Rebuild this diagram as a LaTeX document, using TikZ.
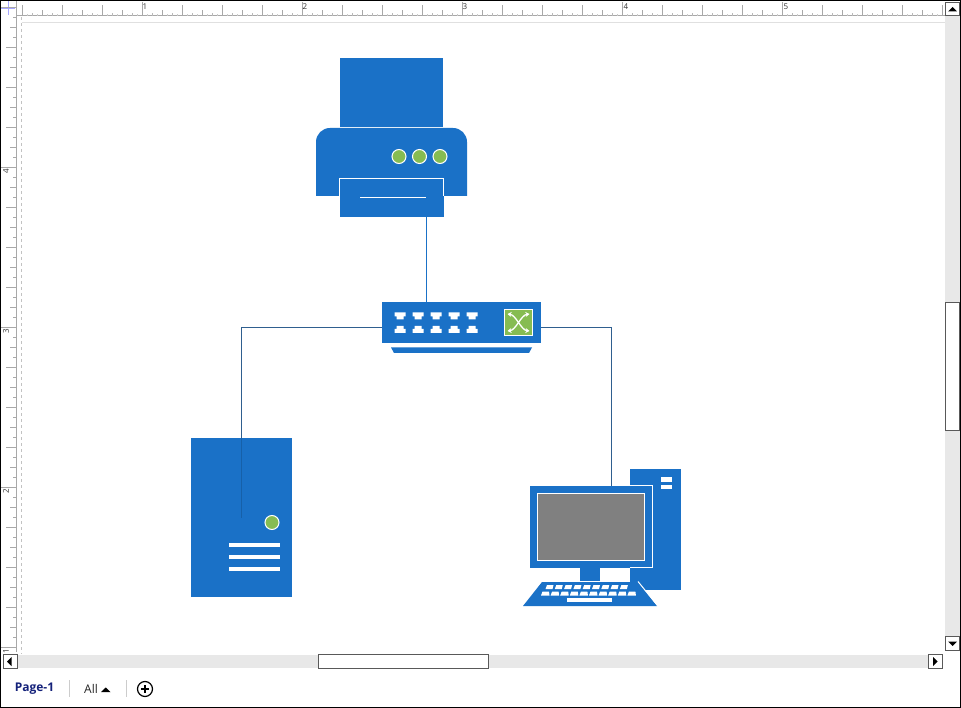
\documentclass[tikz,border=0pt]{standalone}
\usepackage{xcolor}
\usepackage{fontspec}
\setmainfont{Open Sans}
\usetikzlibrary{arrows.meta,positioning,calc}
\definecolor{netblue}{HTML}{1A71C7}
\definecolor{leaf}{HTML}{86BC52}
\definecolor{wire}{HTML}{2F5F8F}
\definecolor{track}{HTML}{E8E8E8}
\definecolor{tick}{HTML}{A8A8A8}
\definecolor{tabnavy}{HTML}{14217A}
\tikzset{
  panel/.style={rectangle, fill=netblue, inner sep=0pt, outer sep=0pt},
  lamp/.style={circle, fill=leaf, draw=white, line width=1pt, inner sep=0pt, minimum size=14pt},
  slot/.style={rectangle, fill=white, inner sep=0pt, outer sep=0pt},
  key/.style={fill=white, draw=none},
  wirelink/.style={draw=wire, line width=1pt},
  bluelink/.style={draw=netblue, line width=1pt},
  rulerdigit/.style={font=\fontsize{8}{8}\selectfont, text=black!80, inner sep=0pt},
  barbtn/.style={rectangle, draw=black!65, fill=white, line width=1pt, inner sep=0pt, outer sep=0pt, minimum width=14pt, minimum height=13.5pt},
  barthumb/.style={barbtn, fill=white},
  tablbl/.style={font=\fontsize{12}{13}\selectfont, inner sep=0pt},
  swing/.style={{Stealth[length=4pt,width=5pt]}-{Stealth[length=4pt,width=5pt]}, draw=white, line width=1.3pt}
}
\begin{document}
\begin{tikzpicture}[x=1pt,y=-1pt]
 \useasboundingbox (0,0) rectangle (961,708);
 \fill[white] (0,0) rectangle (961,708);

 % rulers
 \draw[black!12, line width=0.5pt] (22,22) -- (945,22);
 \draw[tick!70, line width=1pt, dashed] (21.5,17) -- (21.5,654);
 \draw[tick, line width=1pt] (16,16) -- (945,16) (16,0) -- (16,652);
 \draw[blue!35, line width=0.7pt] (1,8) -- (15,8) (8,1) -- (8,15);
 \foreach \x in {27,37,...,942} \draw[tick!60, line width=0.8pt] (\x,16) -- (\x,14);
 \foreach \x in {32,52,...,942} \draw[tick!80, line width=0.8pt] (\x,16) -- (\x,13);
 \foreach \x in {42,82,...,942} \draw[tick, line width=0.8pt] (\x,16) -- (\x,10);
 \foreach \x in {22,62,...,942} \draw[tick, line width=0.8pt] (\x,16) -- (\x,5);
 \foreach \x in {142,302,462,622,782} \draw[tick, line width=0.8pt] (\x,16) -- (\x,2);
 \foreach \y in {17,27,...,650} \draw[tick, line width=0.8pt] (16,\y) -- (13,\y);
 \foreach \y in {27,67,...,650} \draw[tick, line width=0.8pt] (16,\y) -- (10,\y);
 \foreach \y in {47,87,...,650} \draw[tick, line width=0.8pt] (16,\y) -- (6,\y);
 \foreach \y in {7,167,327,487,647} \draw[tick, line width=0.8pt] (16,\y) -- (1,\y);
 \foreach \n/\x in {1/145,2/305,3/465,4/626,5/786}
   \node[rulerdigit] (top\n) at (\x,7) {\n};
 \foreach \n/\y in {1/651,2/491,3/331,4/171}
   \node[rulerdigit, rotate=90] (side\n) at (6,\y) {\n};

 % scroll bars
 \fill[track] (945,16) rectangle (960,637);
 \fill[track] (18,654.5) rectangle (928,668);
 \node[barthumb, minimum width=14pt, minimum height=127pt] (vthumb) at (952.5,366.5) {};
 \node[barthumb, minimum width=170pt, minimum height=14pt] (hthumb) at (403.5,661.5) {};
 \node[barbtn] (btnup) at (952.5,9) {};
 \node[barbtn] (btndown) at (952.5,643.5) {};
 \node[barbtn] (btnleft) at (10,661.5) {};
 \node[barbtn] (btnright) at (935,661.5) {};
 \fill[black] (948,11.5) -- (957,11.5) -- (952.5,7) -- cycle;
 \fill[black] (948,641.5) -- (957,641.5) -- (952.5,646) -- cycle;
 \fill[black] (11.5,657) -- (11.5,666) -- (7,661.5) -- cycle;
 \fill[black] (933,657) -- (933,666) -- (937.5,661.5) -- cycle;

 % sheet tabs
 \node[tablbl, text=tabnavy, font=\fontsize{12}{13}\selectfont\bfseries] (pagetab) at (34.5,688.5) {Page-1};
 \node[tablbl, text=black!85] (alltab) at (91,688.5) {All};
 \fill[black] (101,692) -- (110.5,692) -- (105.75,687.5) -- cycle;
 \draw[black!20, line width=1pt] (69.5,680) -- (69.5,697) (126.5,680) -- (126.5,697);
 \node[circle, draw=black, line width=1.2pt, minimum size=15pt, inner sep=0pt] (addtab) at (145,689) {};
 \draw[black, line width=1.5pt] (141,689) -- (149,689) (145,685) -- (145,693);

 % printer
 \node[panel, minimum width=103pt, minimum height=69pt] (paper) at (391.5,92.5) {};
 \fill[netblue] (316,196) [rounded corners=14pt] -- (316,128) -- (467,128) [sharp corners] -- (467,196) -- cycle;
 \node[lamp] (lampa) at (399,156.5) {};
 \node[lamp] (lampb) at (419.5,156.5) {};
 \node[lamp] (lampc) at (440,156.5) {};
 \node[panel, minimum width=104pt, minimum height=38.5pt] (tray) at (391.5,197.75) {};
 \draw[white, line width=1pt] (339.5,196) -- (tray.north west) -- (tray.north east) -- (443.5,196);
 \draw[white, line width=1pt] (360,197.5) -- (426,197.5);

 % switch
 \node[panel, minimum width=159pt, minimum height=41pt] (switch) at (461.5,322.5) {};
 \fill[netblue] (391,347.5) -- (532,347.5) -- (529,353) -- (394,353) -- cycle;
 \foreach \x in {400,418,436,454,472} {
   \fill[white] (\x-5.5,312.5) -- (\x+5.5,312.5) -- (\x+5.5,316.5) -- (\x+3.5,316.5) -- (\x+3.5,319.5) -- (\x-3.5,319.5) -- (\x-3.5,316.5) -- (\x-5.5,316.5) -- cycle;
   \fill[white] (\x-5.5,329) -- (\x-3.5,329) -- (\x-3.5,326) -- (\x+3.5,326) -- (\x+3.5,329) -- (\x+5.5,329) -- (\x+5.5,333) -- (\x-5.5,333) -- cycle;
 }
 \node[rectangle, fill=leaf, draw=white, line width=1pt, minimum width=28pt, minimum height=26pt, inner sep=0pt] (fabric) at (518.5,322.5) {};
 \draw[swing] (507.5,314) .. controls (516,315) and (521,330) .. (529.5,331);
 \draw[swing] (507.5,331) .. controls (516,330) and (521,315) .. (529.5,314);

 % server
 \node[panel, minimum width=101pt, minimum height=159pt] (server) at (241.5,517.5) {};
 \node[lamp] (serverlamp) at (272,522.5) {};
 \foreach \y in {545,557,569}
   \node[slot, minimum width=51pt, minimum height=3.5pt] at (254.5,\y) {};

 % desktop computer
 \node[panel, minimum width=51pt, minimum height=121pt] (tower) at (655.5,529.5) {};
 \node[slot, minimum width=11pt, minimum height=4.5pt] (bayone) at (666,479.5) {};
 \node[slot, minimum width=11pt, minimum height=4pt] (baytwo) at (666,487) {};
 \node[panel, minimum width=123pt, minimum height=81.5pt] (monitor) at (591.5,526.75) {};
 \draw[white, line width=1pt] (630,485.5) -- (652.5,485.5) -- (652.5,567.5) -- (630,567.5);
 \node[rectangle, fill=black!50, draw=white, line width=1pt, minimum width=107pt, minimum height=67pt, inner sep=0pt] (screen) at (591.25,526.75) {};
 \node[panel, minimum width=20pt, minimum height=13pt] (stand) at (590,574.5) {};
 \fill[netblue] (542,582) -- (638,582) -- (657,606) -- (523,606) -- cycle;
 \draw[white, line width=1pt] (638,581.5) -- (657.5,605.5);
 \foreach \i in {0,...,8}
   \fill[key] ({547+\i*9.3},585) -- ({553.5+\i*9.3},585) -- ({552.5+\i*9.3},589) -- ({545.5+\i*9.3},589) -- cycle;
 \foreach \i in {0,...,9}
   \fill[key] ({542.5+\i*9.6},591.5) -- ({549+\i*9.6},591.5) -- ({549.5+\i*9.6},595.5) -- ({541+\i*9.6},595.5) -- cycle;
 \fill[key] (567,598) rectangle (612,602);

 % links between the devices
 \coordinate (printerport) at (426.5,217);
 \coordinate (switchtop) at (426.5,302);
 \coordinate (switchleft) at (382,327.5);
 \coordinate (switchright) at (541,327.5);
 \coordinate (serverport) at (241.5,438);
 \coordinate (serverend) at (241.5,518);
 \coordinate (monitorport) at (611.5,486);
 \draw[bluelink] (printerport) -- (switchtop);
 \draw[wirelink] (switchleft) -| (serverport);
 \draw[draw=netblue!85!black, line width=1pt] (serverport) -- (serverend);
 \draw[wirelink] (switchright) -| (monitorport);

 % window frame
 \draw[black, line width=2pt] (0,0) rectangle (961,708);
\end{tikzpicture}
\end{document}
